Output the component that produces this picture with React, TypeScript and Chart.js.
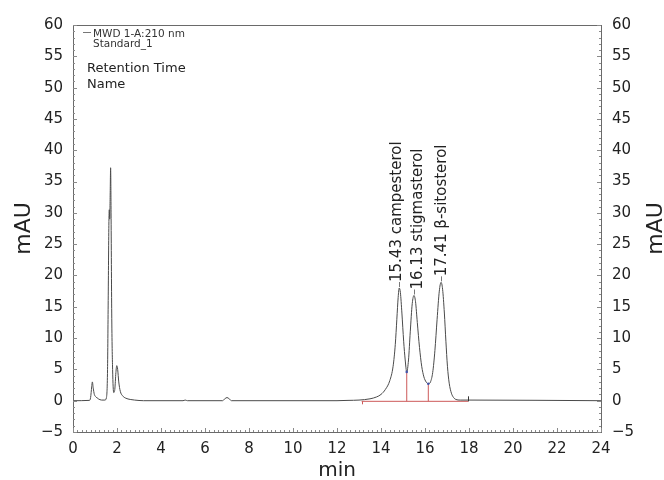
import React, { useEffect, useRef } from 'react';
import { Chart, registerables } from 'chart.js';

Chart.register(...registerables);

// ---------- data ----------
const timeMin = [
  0, 0.75, 0.8, 0.85, 0.88, 0.92, 0.97, 1.05, 1.15, 1.3, 1.45, 1.52, 1.57, 1.6, 1.63, 1.65, 1.67, 1.69,
  1.71, 1.73, 1.76, 1.8, 1.85, 1.9, 1.95, 1.99, 2.03, 2.08, 2.15, 2.25, 2.4, 2.6, 2.8, 3.2, 5.0, 5.1,
  5.2, 6.8, 6.9, 7.0, 7.1, 7.2, 12.0, 12.5, 13.0, 13.5, 13.8, 14.0, 14.2, 14.4, 14.55, 14.65, 14.72,
  14.78, 14.83, 14.88, 14.95, 15.03, 15.1, 15.17, 15.25, 15.33, 15.42, 15.5, 15.57, 15.65, 15.75,
  15.85, 15.95, 16.05, 16.15, 16.25, 16.35, 16.45, 16.55, 16.65, 16.73, 16.8, 16.88, 16.95, 17.02,
  17.1, 17.2, 17.3, 17.4, 17.6, 18.0, 24.0,
];
const signalMAU = [
  0, 0.05, 0.5, 2.2, 3.0, 2.0, 1.0, 0.6, 0.3, 0.1, 0.1, 0.5, 5, 16, 28, 30.5, 29, 33,
  37.2, 30, 14, 5, 1.3, 1.8, 4.5, 5.6, 5.0, 3.0, 1.5, 0.8, 0.4, 0.2, 0.1, 0.0, 0.0, 0.1,
  0.0, 0.0, 0.3, 0.5, 0.3, 0.0, 0.0, 0.05, 0.1, 0.3, 0.6, 1.0, 1.8, 3.2, 5.5, 9, 13,
  16.5, 18.0, 17.3, 14, 9.5, 6.5, 4.6, 6.5, 11, 15.5, 16.8, 15.8, 12.5, 8.5,
  5.5, 3.8, 3.0, 2.7, 3.0, 4.5, 8, 13, 17.5, 18.9, 17.8, 14, 9.5, 5.5,
  2.8, 1.2, 0.5, 0.2, 0.1, 0.1, 0.0,
];

const peakRetTimes = ['15.43', '16.13', '17.41'];
const peakNames = ['campesterol', 'stigmasterol', 'β-sitosterol'];
const peakApexTime = [14.83, 15.5, 16.73];
const peakApexHeight = [18.0, 16.8, 18.9];

const valleyTime = [15.17, 16.15];
const valleyHeight = [4.6, 2.7];

const baselineTime = [13.12, 17.97];
const baselineLevel = [-0.1, -0.1];

const legendLines = ['MWD 1-A:210 nm', 'Standard_1'];
const infoLines = ['Retention Time', 'Name'];

const xAxisTitle = 'min';
const yAxisTitle = 'mAU';

// ---------- styles ----------
const FONT = '"DejaVu Sans", "Noto Sans", sans-serif';
const TRACE = '#4a4a4a';
const RED = 'rgb(205,90,90)';
const FRAME = '#6a6a6a';
const TEXT = '#222';
const labelDx = [-2, 4, 1];

export default function App() {
  const ref = useRef<HTMLCanvasElement | null>(null);

  useEffect(() => {
    const canvas = ref.current;
    if (!canvas) return;

    const trace = timeMin.map((t, i) => ({ x: t, y: signalMAU[i] }));
    const baseline = baselineTime.map((t, i) => ({ x: t, y: baselineLevel[i] }));
    const drops = valleyTime.map((t, i) => ({
      label: 'drop' + i,
      data: [
        { x: t, y: baselineLevel[0] },
        { x: t, y: valleyHeight[i] },
      ],
      borderColor: RED,
      borderWidth: 1,
      pointRadius: 0,
      tension: 0,
    }));

    const overlay = {
      id: 'overlay',
      afterDraw(chart: any) {
        const { ctx, chartArea: a, scales } = chart;
        const xs = scales.x;
        const ys = scales.y;
        ctx.save();

        // frame
        ctx.strokeStyle = FRAME;
        ctx.lineWidth = 1;
        ctx.strokeRect(Math.round(a.left) + 0.5, Math.round(a.top) + 0.5, Math.round(a.right - a.left), Math.round(a.bottom - a.top));

        // minor ticks (inside)
        ctx.strokeStyle = '#8a8a8a';
        ctx.beginPath();
        for (let v = -5; v <= 60; v += 1) {
          const y = Math.round(ys.getPixelForValue(v)) + 0.5;
          const len = v % 5 === 0 ? 4 : 2;
          ctx.moveTo(a.left, y);
          ctx.lineTo(a.left + len, y);
          ctx.moveTo(a.right, y);
          ctx.lineTo(a.right - len, y);
        }
        for (let k = 0; k <= 120; k++) {
          const v = k * 0.2;
          const x = Math.round(xs.getPixelForValue(v)) + 0.5;
          const len = k % 10 === 0 ? 4 : 2;
          ctx.moveTo(x, a.bottom);
          ctx.lineTo(x, a.bottom - len);
        }
        ctx.stroke();

        // axis titles
        ctx.fillStyle = TEXT;
        ctx.font = `22px ${FONT}`;
        ctx.textAlign = 'center';
        ctx.textBaseline = 'alphabetic';
        const midY = (a.top + a.bottom) / 2;
        ctx.save();
        ctx.translate(30, midY);
        ctx.rotate(-Math.PI / 2);
        ctx.fillText(yAxisTitle, 0, 0);
        ctx.restore();
        ctx.save();
        ctx.translate(662, midY);
        ctx.rotate(-Math.PI / 2);
        ctx.fillText(yAxisTitle, 0, 0);
        ctx.restore();
        ctx.font = `20px ${FONT}`;
        ctx.fillText(xAxisTitle, (a.left + a.right) / 2, 476);

        // legend
        ctx.textAlign = 'left';
        ctx.font = `10.5px ${FONT}`;
        ctx.fillStyle = '#333';
        ctx.strokeStyle = '#777';
        ctx.beginPath();
        ctx.moveTo(a.left + 10, 32.5);
        ctx.lineTo(a.left + 18, 32.5);
        ctx.stroke();
        ctx.fillText(legendLines[0], a.left + 20, 37);
        ctx.fillText(legendLines[1], a.left + 20, 47);
        ctx.font = `13px ${FONT}`;
        ctx.fillStyle = TEXT;
        ctx.fillText(infoLines[0], a.left + 14, 72);
        ctx.fillText(infoLines[1], a.left + 14, 88);

        // peak labels
        ctx.font = `15px ${FONT}`;
        ctx.strokeStyle = '#777';
        for (let i = 0; i < peakNames.length; i++) {
          const px = xs.getPixelForValue(peakApexTime[i]);
          const py = ys.getPixelForValue(peakApexHeight[i]);
          ctx.beginPath();
          ctx.moveTo(Math.round(px) + 0.5, py - 1);
          ctx.lineTo(Math.round(px) + 0.5, py - 6);
          ctx.stroke();
          ctx.save();
          ctx.translate(px + labelDx[i], py - 6);
          ctx.rotate(-Math.PI / 2);
          ctx.textAlign = 'left';
          ctx.textBaseline = 'middle';
          ctx.fillStyle = TEXT;
          ctx.fillText(`${peakRetTimes[i]} ${peakNames[i]}`, 0, 0);
          ctx.restore();
        }

        // baseline start / end markers
        const by = ys.getPixelForValue(baselineLevel[0]);
        ctx.strokeStyle = RED;
        ctx.beginPath();
        const bx0 = Math.round(xs.getPixelForValue(baselineTime[0])) + 0.5;
        ctx.moveTo(bx0, by);
        ctx.lineTo(bx0, by + 3);
        ctx.stroke();
        ctx.strokeStyle = '#333';
        ctx.beginPath();
        const bx1 = Math.round(xs.getPixelForValue(baselineTime[1])) + 0.5;
        ctx.moveTo(bx1, by);
        ctx.lineTo(bx1, by - 5);
        ctx.stroke();

        // valley dots
        ctx.fillStyle = '#4455aa';
        for (let i = 0; i < valleyTime.length; i++) {
          ctx.beginPath();
          ctx.arc(xs.getPixelForValue(valleyTime[i]), ys.getPixelForValue(valleyHeight[i]), 1.3, 0, Math.PI * 2);
          ctx.fill();
        }
        ctx.restore();
      },
    };

    const tickFont = { family: FONT, size: 15 };

    const chart = new Chart(canvas, {
      type: 'line',
      data: {
        datasets: [
          {
            label: 'MWD 1-A:210 nm',
            data: trace,
            borderColor: TRACE,
            borderWidth: 1,
            pointRadius: 0,
            cubicInterpolationMode: 'monotone',
          },
          {
            label: 'baseline',
            data: baseline,
            borderColor: RED,
            borderWidth: 1,
            pointRadius: 0,
          },
          ...drops,
        ] as any,
      },
      options: {
        responsive: false,
        animation: false,
        devicePixelRatio: 1,
        layout: { padding: { top: 25, left: 0, right: 0, bottom: 0 } },
        plugins: { legend: { display: false }, tooltip: { enabled: false }, title: { display: false } },
        scales: {
          x: {
            type: 'linear',
            position: 'bottom',
            min: 0,
            max: 24,
            grid: { display: false, drawTicks: false },
            border: { display: false },
            ticks: { stepSize: 2, font: tickFont, color: TEXT, padding: 8, maxRotation: 0, autoSkip: false },
            afterFit(s: any) {
              s.height = 48;
            },
          },
          y: {
            type: 'linear',
            position: 'left',
            min: -5,
            max: 60,
            grid: { display: false, drawTicks: false },
            border: { display: false },
            ticks: {
              stepSize: 5,
              font: tickFont,
              color: TEXT,
              padding: 10,
              callback: (v: any) => (Number(v) < 0 ? '\u2212' + Math.abs(Number(v)) : String(v)),
            },
            afterFit(s: any) {
              s.width = 73;
            },
          },
          y2: {
            type: 'linear',
            position: 'right',
            display: true,
            min: -5,
            max: 60,
            grid: { display: false, drawTicks: false },
            border: { display: false },
            ticks: {
              stepSize: 5,
              font: tickFont,
              color: TEXT,
              padding: 11,
              callback: (v: any) => (Number(v) < 0 ? '\u2212' + Math.abs(Number(v)) : String(v)),
            },
            afterFit(s: any) {
              s.width = 63;
            },
          },
        },
      },
      plugins: [overlay],
    });

    return () => chart.destroy();
  }, []);

  return (
    <div style={{ position: 'fixed', left: 0, top: 0, width: 664, height: 480, background: '#fff' }}>
      <canvas ref={ref} width={664} height={480} style={{ display: 'block', width: 664, height: 480 }} />
    </div>
  );
}
